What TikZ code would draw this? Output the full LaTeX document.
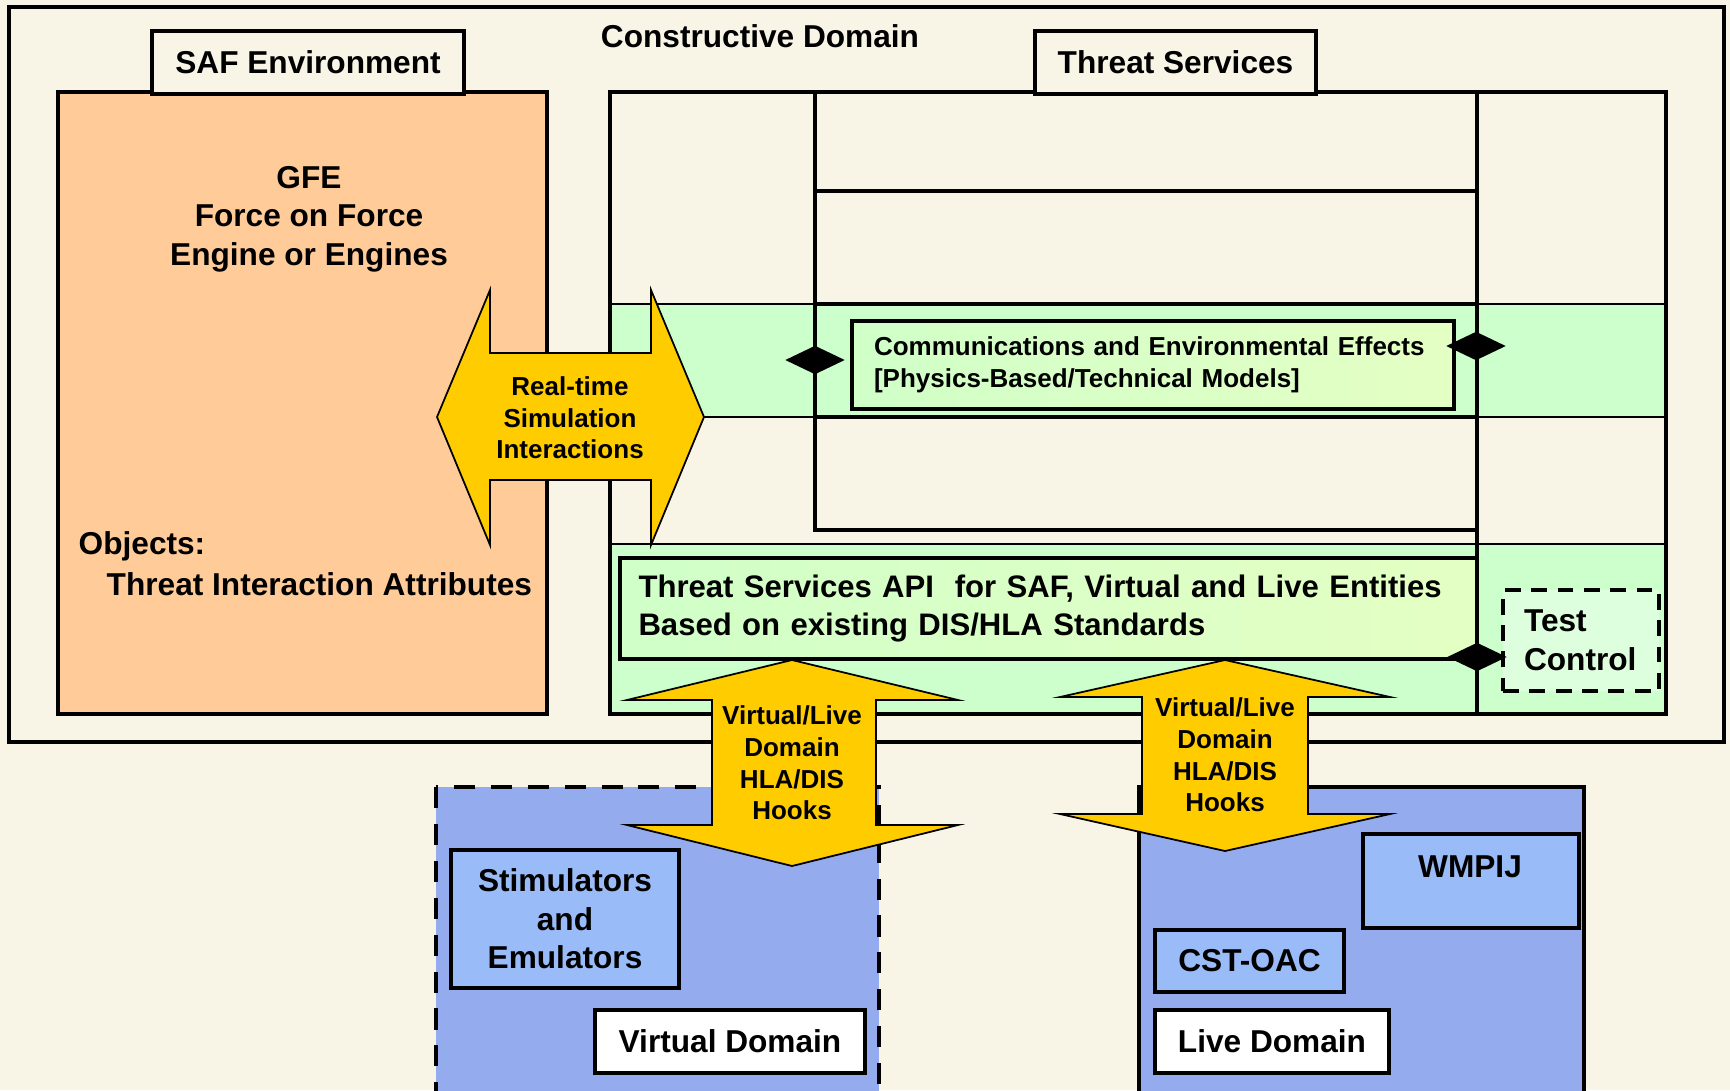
\documentclass[tikz,border=0pt]{standalone}
\usepackage{fontspec}
\setmainfont{Liberation Sans}
\usetikzlibrary{shapes.geometric}
\definecolor{cream}{RGB}{248,244,230}
\definecolor{peach}{RGB}{255,204,153}
\definecolor{mint}{RGB}{204,255,204}
\definecolor{palemint}{RGB}{221,255,221}
\definecolor{apileft}{RGB}{208,255,200}
\definecolor{apiright}{RGB}{228,255,196}
\definecolor{gold}{RGB}{255,204,0}
\definecolor{periwinkle}{RGB}{148,172,238}
\definecolor{skyblue}{RGB}{153,187,247}
\newcommand{\bigtxt}{\fontsize{9}{11}\selectfont\bfseries}
\newcommand{\apitxt}{\fontsize{8.85}{10.8}\selectfont\bfseries}
\newcommand{\smalltxt}{\fontsize{7.4}{9}\selectfont\bfseries}
\begin{document}
\begin{tikzpicture}[
  every node/.style={inner sep=0pt},
  tag/.style={draw, line width=1pt, fill=cream, font=\bigtxt},
  modelbox/.style={draw, line width=0.9pt, left color=apileft, right color=apiright, align=left},
  gadget/.style={draw, line width=1pt, fill=skyblue, font=\bigtxt, align=center},
  domtag/.style={draw, line width=1pt, fill=white, font=\bigtxt},
  joint/.style={diamond, fill=black, minimum width=0.6cm, minimum height=0.29cm},
  hook/.style={draw=black, line width=0.5pt, fill=gold},
  domainbox/.style={line width=1.4pt, fill=periwinkle}]
\useasboundingbox (0,0) rectangle (17.3,10.9);
\fill[cream] (0,0) rectangle (17.3,10.9);
%
\draw[line width=1.2pt] (0.09,10.83) rectangle (17.24,3.48);
\node[font=\bigtxt] (constructive) at (7.60,10.54) {Constructive Domain};
%
\draw[line width=0.9pt, fill=peach] (0.58,9.98) rectangle (5.47,3.76);
\node[tag, minimum width=3.12cm, minimum height=0.63cm] (saftag) at (3.08,10.275) {SAF Environment};
\node[font=\bigtxt, align=center] (gfe) at (3.09,8.71) {GFE\\Force on Force\\Engine or Engines};
\node[font=\bigtxt, anchor=west] (objects) at (0.78,5.44) {Objects:};
\node[font=\bigtxt, anchor=west] (attrs) at (1.06,5.06) {Threat Interaction Attributes};
%
\fill[mint] (6.10,7.86) rectangle (16.66,6.73);
\fill[mint] (6.10,5.46) rectangle (16.66,3.76);
\draw[line width=0.4pt] (6.10,7.86) -- (16.66,7.86);
\draw[line width=0.4pt] (6.10,6.73) -- (16.66,6.73);
\draw[line width=0.4pt] (6.10,5.46) -- (16.66,5.46);
\draw[line width=0.9pt] (8.15,9.98) -- (8.15,5.60) -- (14.77,5.60);
\draw[line width=0.9pt] (14.77,9.98) -- (14.77,3.76);
\draw[line width=0.9pt] (8.15,8.99) -- (14.77,8.99);
\draw[line width=0.9pt] (8.15,7.86) -- (14.77,7.86);
\draw[line width=0.9pt] (8.15,6.73) -- (14.77,6.73);
\draw[line width=0.9pt] (6.10,9.98) rectangle (16.66,3.76);
\node[tag, minimum width=2.81cm, minimum height=0.63cm] (threattag) at (11.755,10.275) {Threat Services};
%
\node[modelbox, minimum width=6.02cm, minimum height=0.88cm, text width=5.58cm, font=\smalltxt] (comms) at (11.53,7.25)
  {Communications and Environmental Effects\\{[}Physics-Based/Technical Models]};
\node[modelbox, minimum width=8.57cm, minimum height=1.01cm, text width=8.2cm, font=\apitxt] (api) at (10.485,4.815)
  {Threat Services API~ for SAF, Virtual and Live Entities\\Based on existing DIS/HLA Standards};
\node[draw, line width=0.9pt, dash pattern=on 4.5pt off 3pt, fill=palemint, minimum width=1.56cm, minimum height=1.01cm,
  text width=1.14cm, align=left, font=\bigtxt] (testctl) at (15.81,4.495) {Test\\Control};
%
\node[joint] (jcomms) at (8.15,7.30) {};
\node[joint] (jright) at (14.76,7.44) {};
\node[joint] (japi) at (14.77,4.33) {};
%
\draw[hook] (4.37,6.73) -- (4.90,8.00) -- (4.90,7.37) -- (6.51,7.37) -- (6.51,8.00) -- (7.04,6.73)
  -- (6.51,5.45) -- (6.51,6.10) -- (4.90,6.10) -- (4.90,5.45) -- cycle;
\node[font=\smalltxt, align=center] (realtime) at (5.70,6.72) {Real-time\\Simulation\\Interactions};
%
\draw[domainbox, dash pattern=on 6pt off 4.5pt] (4.36,3.03) rectangle (8.79,-0.3);
\node[gadget, minimum width=2.28cm, minimum height=1.38cm] (stim) at (5.65,1.71) {Stimulators\\and\\Emulators};
\node[domtag, minimum width=2.70cm, minimum height=0.63cm] (virtualtag) at (7.30,0.485) {Virtual Domain};
%
\draw[domainbox] (11.39,3.03) rectangle (15.84,-0.3);
\node[gadget, minimum width=2.16cm, minimum height=0.94cm] (wmpij) at (14.71,2.09) {};
\node[font=\bigtxt] (wmpijtxt) at (14.70,2.23) {WMPIJ};
\node[gadget, minimum width=1.89cm, minimum height=0.62cm] (cstoac) at (12.495,1.29) {CST-OAC};
\node[domtag, minimum width=2.34cm, minimum height=0.63cm] (livetag) at (12.72,0.485) {Live Domain};
%
\draw[hook] (7.92,4.30) -- (9.58,3.90) -- (8.76,3.90) -- (8.76,2.65) -- (9.58,2.65) -- (7.92,2.24)
  -- (6.27,2.65) -- (7.12,2.65) -- (7.12,3.90) -- (6.27,3.90) -- cycle;
\node[font=\smalltxt, align=center] (vhooks) at (7.92,3.27) {Virtual/Live\\Domain\\HLA/DIS\\Hooks};
\draw[hook] (12.25,4.30) -- (13.90,3.93) -- (13.08,3.93) -- (13.08,2.76) -- (13.90,2.76) -- (12.25,2.39)
  -- (10.60,2.76) -- (11.42,2.76) -- (11.42,3.93) -- (10.60,3.93) -- cycle;
\node[font=\smalltxt, align=center] (lhooks) at (12.25,3.35) {Virtual/Live\\Domain\\HLA/DIS\\Hooks};
%
\end{tikzpicture}
\end{document}
